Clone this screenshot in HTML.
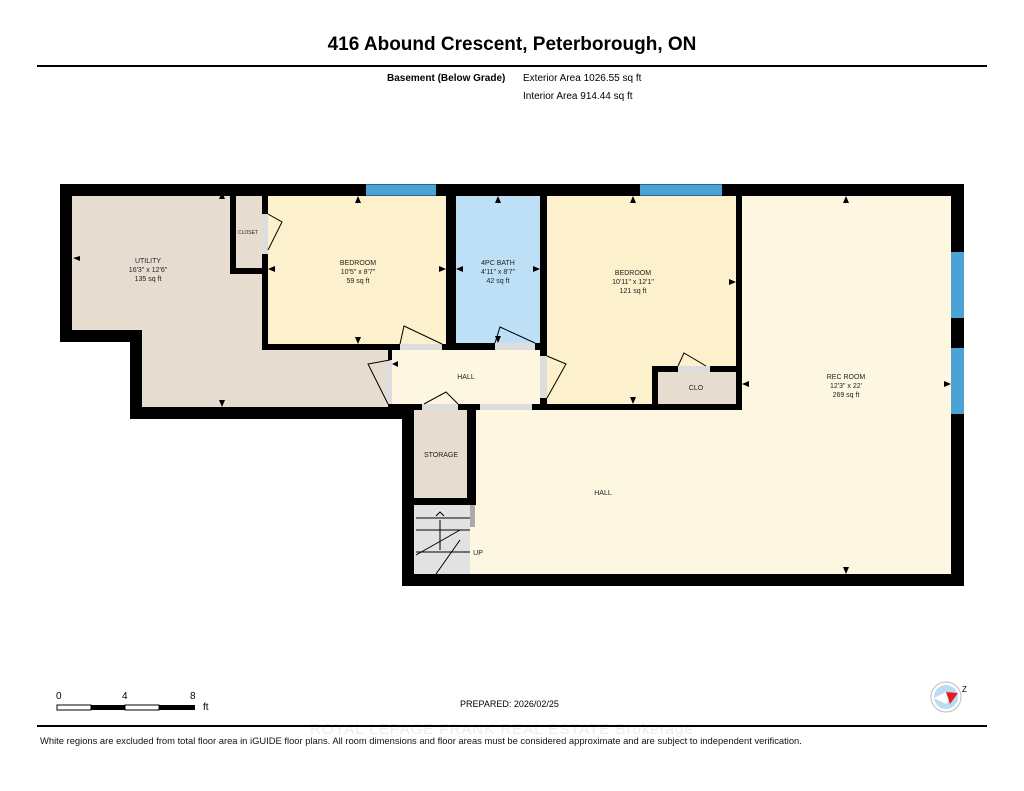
<!DOCTYPE html>
<html><head><meta charset="utf-8"><style>
body{margin:0;background:#fff;width:1024px;height:791px;overflow:hidden;position:relative;font-family:"Liberation Sans",sans-serif}
.a{position:absolute}
.k{position:absolute;background:#000}
.t{position:absolute;font-size:7px;color:#222;text-align:center;line-height:9px;transform:translateX(-50%);white-space:nowrap}
</style></head><body>
<div class="a" style="left:0;top:34px;width:1024px;text-align:center;font-weight:bold;font-size:19px;">416 Abound Crescent, Peterborough, ON</div>
<div class="k" style="left:37px;top:65px;width:950px;height:2px"></div>
<div class="a" style="left:387px;top:73px;font-size:10px;font-weight:bold">Basement (Below Grade)</div>
<div class="a" style="left:523px;top:73px;font-size:10px">Exterior Area 1026.55 sq ft</div>
<div class="a" style="left:523px;top:91px;font-size:10px">Interior Area 914.44 sq ft</div>

<!-- black mass -->
<div class="k" style="left:60px;top:184px;width:904px;height:158px"></div>
<div class="k" style="left:130px;top:330px;width:272px;height:89px"></div>
<div class="k" style="left:402px;top:342px;width:562px;height:244px"></div>

<!-- rooms -->
<div class="a" style="left:72px;top:196px;width:158px;height:134px;background:#e6ddd0"></div>
<div class="a" style="left:142px;top:274px;width:120px;height:133px;background:#e6ddd0"></div>
<div class="a" style="left:142px;top:350px;width:246px;height:57px;background:#e6ddd0"></div>
<div class="a" style="left:236px;top:196px;width:26px;height:72px;background:#e6ddd0"></div>
<div class="a" style="left:268px;top:196px;width:178px;height:148px;background:#fdf0cc"></div>
<div class="a" style="left:456px;top:196px;width:84px;height:147px;background:#bde0f7"></div>
<div class="a" style="left:547px;top:196px;width:189px;height:208px;background:#fdf0cc"></div>
<div class="a" style="left:658px;top:372px;width:78px;height:32px;background:#e6ddd0"></div>
<div class="k" style="left:652px;top:366px;width:84px;height:6px"></div>
<div class="k" style="left:652px;top:366px;width:6px;height:40px"></div>
<div class="a" style="left:392px;top:350px;width:148px;height:54px;background:#fdf7e2"></div>
<div class="a" style="left:742px;top:196px;width:209px;height:378px;background:#fdf7e2"></div>
<div class="a" style="left:476px;top:410px;width:475px;height:164px;background:#fdf7e2"></div>
<div class="a" style="left:414px;top:410px;width:53px;height:88px;background:#e6ddd0"></div>
<div class="a" style="left:414px;top:505px;width:56px;height:69px;background:#e2e2e2"></div>
<div class="a" style="left:470px;top:505px;width:6px;height:69px;background:#fdf7e2"></div>

<!-- windows -->
<div class="a" style="left:366px;top:184px;width:70px;height:12px;background:#4aa3d4;border-top:1px solid #1c6b99;border-bottom:1px solid #1c6b99;box-sizing:border-box"></div>
<div class="a" style="left:640px;top:184px;width:82px;height:12px;background:#4aa3d4;border-top:1px solid #1c6b99;border-bottom:1px solid #1c6b99;box-sizing:border-box"></div>
<div class="a" style="left:951px;top:252px;width:13px;height:66px;background:#4aa3d4"></div>
<div class="a" style="left:951px;top:348px;width:13px;height:66px;background:#4aa3d4"></div>

<!-- door openings -->
<div class="a" style="left:400px;top:344px;width:42px;height:6px;background:#ddd"></div>
<div class="a" style="left:495px;top:343px;width:40px;height:7px;background:#ddd"></div>
<div class="a" style="left:386px;top:360px;width:6px;height:44px;background:#ddd"></div>
<div class="a" style="left:540px;top:356px;width:7px;height:42px;background:#ddd"></div>
<div class="a" style="left:262px;top:214px;width:6px;height:40px;background:#ddd"></div>
<div class="a" style="left:422px;top:404px;width:36px;height:6px;background:#ddd"></div>
<div class="a" style="left:480px;top:404px;width:52px;height:6px;background:#ddd"></div>
<div class="a" style="left:678px;top:366px;width:32px;height:6px;background:#ddd"></div>
<div class="a" style="left:470px;top:505px;width:5px;height:22px;background:#aaa"></div>

<svg class="a" style="left:0;top:0" width="1024" height="791">
<g stroke="#000" stroke-width="1" fill="none">
<path d="M400 344 L404 326 L442 344"/>
<path d="M495 343 L500 327 L535 343"/>
<path d="M388 404 L368 364 L390 360"/>
<path d="M547 356 L566 364 L547 398"/>
<path d="M268 214 L282 222 L268 250"/>
<path d="M424 404 L446 392 L458 404"/>
<path d="M678 366 L684 353 L706 366"/>
<path d="M416 530 L470 530 M416 552 L470 552 M416 518 L470 518 M416 555 L460 530 M436 574 L460 540 M440 550 L440 520 M436 516 L440 512 L444 516"/>
</g>
<g fill="#000">
<path d="M222 192 l-3 7 h6z"/><path d="M222 407 l-3 -7 h6z"/><path d="M73 258 l7 -2 v5z"/>
<path d="M358 196 l-3 7 h6z"/><path d="M358 344 l-3 -7 h6z"/><path d="M268 269 l7 -3 v6z"/><path d="M446 269 l-7 -3 v6z"/>
<path d="M498 196 l-3 7 h6z"/><path d="M498 343 l-3 -7 h6z"/><path d="M456 269 l7 -3 v6z"/><path d="M540 269 l-7 -3 v6z"/>
<path d="M633 196 l-3 7 h6z"/><path d="M633 404 l-3 -7 h6z"/><path d="M736 282 l-7 -3 v6z"/>
<path d="M846 196 l-3 7 h6z"/><path d="M846 574 l-3 -7 h6z"/><path d="M742 384 l7 -3 v6z"/><path d="M951 384 l-7 -3 v6z"/>
<path d="M392 364 l6 -3 v6z"/>
</g>
<rect x="57" y="705" width="34" height="5" fill="#fff" stroke="#000" stroke-width="1"/>
<rect x="91" y="705" width="34" height="5" fill="#000"/>
<rect x="125" y="705" width="34" height="5" fill="#fff" stroke="#000" stroke-width="1"/>
<rect x="159" y="705" width="36" height="5" fill="#000"/>
<circle cx="946" cy="697" r="15" fill="#fff" stroke="#bbb"/>
<circle cx="946" cy="697" r="12" fill="#bcdcf2"/>
<path d="M934 698 L946 692 L958 693 L946 704Z" fill="#fff"/>
<path d="M946 692 L958 693 L950 704Z" fill="#e31b23"/>
<text x="962" y="692" font-size="8" font-family="Liberation Sans">Z</text>
<rect x="37" y="725" width="950" height="2" fill="#000"/>
</svg>

<div class="t" style="left:148px;top:257px">UTILITY<br>16'3" x 12'6"<br>135 sq ft</div>
<div class="t" style="left:248px;top:229px;font-size:5px">CLOSET</div>
<div class="t" style="left:358px;top:259px">BEDROOM<br>10'5" x 8'7"<br>59 sq ft</div>
<div class="t" style="left:498px;top:259px">4PC BATH<br>4'11" x 8'7"<br>42 sq ft</div>
<div class="t" style="left:633px;top:269px">BEDROOM<br>10'11" x 12'1"<br>121 sq ft</div>
<div class="t" style="left:466px;top:373px">HALL</div>
<div class="t" style="left:696px;top:384px">CLO</div>
<div class="t" style="left:846px;top:373px">REC ROOM<br>12'3" x 22'<br>269 sq ft</div>
<div class="t" style="left:441px;top:451px">STORAGE</div>
<div class="t" style="left:603px;top:489px">HALL</div>
<div class="t" style="left:478px;top:549px">UP</div>

<div class="a" style="left:56px;top:691px;font-size:10px">0</div>
<div class="a" style="left:122px;top:691px;font-size:10px">4</div>
<div class="a" style="left:190px;top:691px;font-size:10px">8</div>
<div class="a" style="left:203px;top:702px;font-size:10px">ft</div>
<div class="a" style="left:460px;top:699px;font-size:9px">PREPARED: 2026/02/25</div>
<div class="a" style="left:310px;top:721px;font-size:15px;color:rgba(0,0,0,0.08);letter-spacing:1px">ROYAL LEPAGE FRANK REAL ESTATE Brokerage</div>
<div class="a" style="left:40px;top:735px;font-size:9.4px;color:#111;white-space:nowrap">White regions are excluded from total floor area in iGUIDE floor plans. All room dimensions and floor areas must be considered approximate and are subject to independent verification.</div>
</body></html>
